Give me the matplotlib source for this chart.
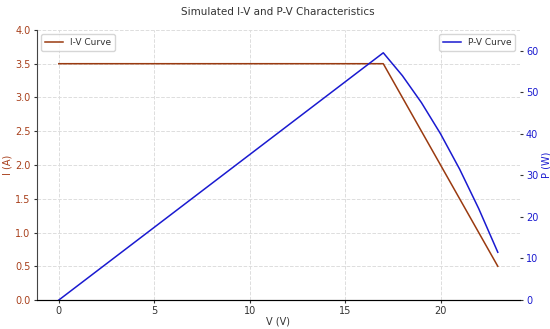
import matplotlib
matplotlib.use('Agg')
import matplotlib.pyplot as plt

# voltage samples (V)
voltage = [0, 17, 18, 19, 20, 21, 22, 23]
# current (A)
current = [3.5, 3.5, 3.0, 2.5, 2.0, 1.5, 1.0, 0.5]
# power (W)
power = [0, 59.5, 54.0, 47.5, 40.0, 31.5, 22.0, 11.5]

i_color = '#a8401c'
p_color = '#1a1ad0'
txt = '#333333'

plt.rcParams['font.size'] = 7
plt.rcParams['text.color'] = txt
plt.rcParams['axes.labelcolor'] = txt
plt.rcParams['xtick.color'] = txt
plt.rcParams['ytick.color'] = txt

fig, ax1 = plt.subplots(figsize=(5.5, 3.29), dpi=100)
ax1.plot(voltage, current, color='#9a3a10', lw=1.1, label='I-V Curve')
ax1.set_xlabel('V (V)', fontsize=7, labelpad=0)
ax1.set_ylabel('I (A)', color=i_color, fontsize=7, labelpad=2)
ax1.tick_params(axis='y', labelcolor=i_color, labelsize=7, length=2.5, pad=2)
ax1.tick_params(axis='x', labelsize=7, length=2.5, pad=2)
ax1.set_ylim(0, 4.0)
ax1.grid(True, linestyle='--', color='#dddddd', lw=0.7)
ax1.spines['top'].set_visible(False)
ax1.spines['right'].set_visible(False)
ax1.spines['left'].set_color('#444444')
ax1.spines['bottom'].set_color('#444444')
ax1.legend(loc='upper left', fontsize=6.5)

ax2 = ax1.twinx()
ax2.plot(voltage, power, color=p_color, lw=1.1, label='P-V Curve')
ax2.set_ylabel('P (W)', color=p_color, fontsize=7, labelpad=2)
ax2.tick_params(axis='y', labelcolor=p_color, labelsize=7, length=2.5, pad=2)
ax2.set_ylim(0, 65)
for s in ['top', 'right', 'left']:
    ax2.spines[s].set_visible(False)
ax2.legend(loc='upper right', fontsize=6.5)

plt.title('Simulated I-V and P-V Characteristics', fontsize=7.5, pad=11)
fig.subplots_adjust(left=0.067, right=0.945, top=0.909, bottom=0.088)
plt.savefig('out.png')
